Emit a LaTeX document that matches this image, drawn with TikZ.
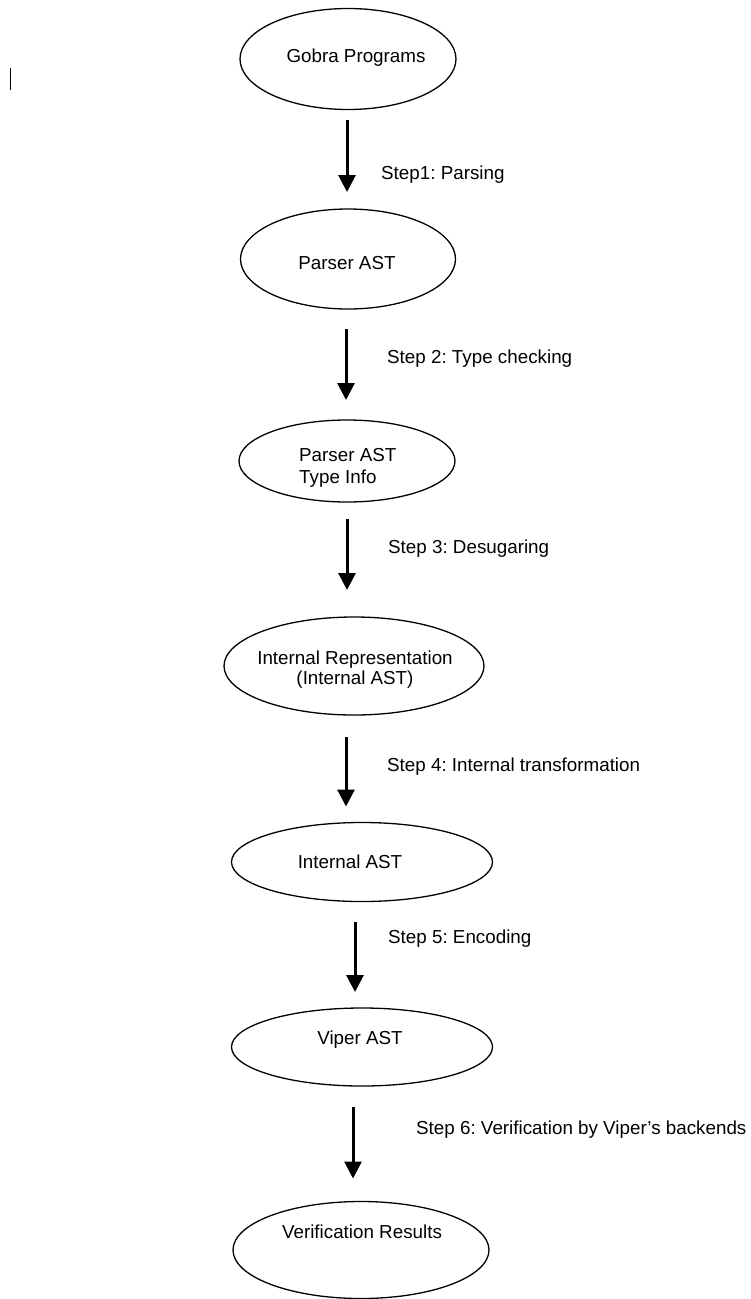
\documentclass[tikz,border=0pt]{standalone}
\usepackage{fontspec}
\setmainfont{Liberation Sans}
\frenchspacing
\usetikzlibrary{shapes.geometric,arrows.meta}
\begin{document}
\begin{tikzpicture}[x=1pt,y=-1pt,
  ell/.style={draw,ellipse,line width=1.3pt,inner sep=0pt,outer sep=0pt},
  lbl/.style={inner sep=0pt,font=\fontsize{18.8}{22}\selectfont},
  steplbl/.style={lbl,anchor=base west},
  arr/.style={line width=3pt,-{Triangle[width=17pt,length=17pt]}}]
\useasboundingbox (0,0) rectangle (750,1299);
% cursor mark
\draw[line width=1.6pt] (10.5,68) -- (10.5,90);
% ellipses
\node[ell,minimum width=216pt,minimum height=101pt] (n1) at (348,59) {};
\node[ell,minimum width=215pt,minimum height=100pt] (n2) at (348,259) {};
\node[ell,minimum width=216pt,minimum height=82pt] (n3) at (347,461) {};
\node[ell,minimum width=260pt,minimum height=98pt] (n4) at (354,666) {};
\node[ell,minimum width=261pt,minimum height=79pt] (n5) at (362,862) {};
\node[ell,minimum width=261pt,minimum height=78pt] (n6) at (362,1047) {};
\node[ell,minimum width=256pt,minimum height=97pt] (n7) at (361,1250) {};
% texts
\node[lbl,anchor=base] (t1) at (356,62.6) {Gobra Programs};
\node[lbl,anchor=base] (t2) at (347,269.6) {Parser AST};
\node[lbl,anchor=west,align=left] (t3) at (299,468) {Parser AST\\Type Info};
\node[lbl,anchor=center,align=center,font=\fontsize{18.8}{20}\selectfont] (t4) at (355,670) {Internal Representation\\(Internal AST)};
\node[lbl,anchor=base] (t5) at (350,868.6) {Internal AST};
\node[lbl,anchor=base] (t6) at (360,1044.6) {Viper AST};
\node[lbl,anchor=base] (t7) at (362,1238.6) {Verification Results};
% arrows
\draw[arr,shorten <=10pt,shorten >=17pt] ([xshift=-1pt]n1.south) -- ([xshift=-1pt]n2.north);
\draw[arr,shorten <=20pt,shorten >=20pt] ([xshift=-2pt]n2.south) -- ([xshift=-1pt]n3.north);
\draw[arr,shorten <=17pt,shorten >=27pt] (n3.south) -- ([xshift=-7pt]n4.north);
\draw[arr,shorten <=22pt,shorten >=16pt] ([xshift=-8pt]n4.south) -- ([xshift=-16pt]n5.north);
\draw[arr,shorten <=20pt,shorten >=16pt] ([xshift=-7pt]n5.south) -- ([xshift=-7pt]n6.north);
\draw[arr,shorten <=21pt,shorten >=23pt] ([xshift=-9pt]n6.south) -- ([xshift=-8pt]n7.north);
% step labels
\node[steplbl] (s1) at (381,179.6) {Step1: Parsing};
\node[steplbl] (s2) at (387,363.6) {Step 2: Type checking};
\node[steplbl] (s3) at (388,553.6) {Step 3: Desugaring};
\node[steplbl] (s4) at (387,771.6) {Step 4: Internal transformation};
\node[steplbl] (s5) at (388,943.6) {Step 5: Encoding};
\node[steplbl] (s6) at (416,1134.6) {Step 6: Verification by Viper’s backends};
\end{tikzpicture}
\end{document}
